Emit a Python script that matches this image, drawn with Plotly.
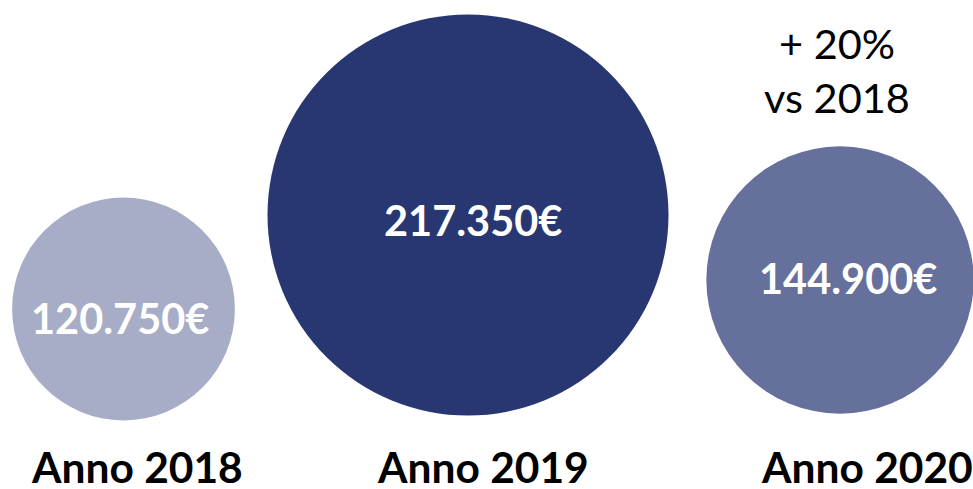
import plotly.graph_objects as go

# Data
years = ["Anno 2018", "Anno 2019", "Anno 2020"]
values = [120750, 217350, 144900]
note_lines = ["+ 20%", "vs 2018"]

# Layout / style (pixel coordinates on a 973x489 window)
W, H = 973, 489
x_pos = [123.5, 468, 840]
y_pos = [309, 215, 280]
value_label_xy = [(120, 318), (473, 220), (848, 278)]
year_label_x = [137, 483, 867]
year_label_y = 466
note_x = 837
note_y = [43, 97]
colors = ["#A7ADC6", "#283771", "#66709D"]
FONT = "Lato"


def fmt(v):
    return f"{v:,}".replace(",", ".") + "€"


fig = go.Figure()
fig.add_trace(go.Scatter(
    x=x_pos, y=y_pos, mode="markers",
    marker=dict(size=values, sizemode="diameter", sizeref=542,
                color=colors, line=dict(width=0), opacity=1),
    hoverinfo="skip", showlegend=False, cliponaxis=False,
))

for (tx, ty), v in zip(value_label_xy, values):
    fig.add_annotation(x=tx, y=ty, text=f"<b>{fmt(v)}</b>", showarrow=False,
                       xanchor="center", yanchor="middle",
                       font=dict(family=FONT, size=41.5, color="white"))

for lx, name in zip(year_label_x, years):
    fig.add_annotation(x=lx, y=year_label_y, text=f"<b>{name}</b>", showarrow=False,
                       xanchor="center", yanchor="middle", borderpad=0,
                       font=dict(family=FONT, size=42.5, color="black"))

for ly, line in zip(note_y, note_lines):
    fig.add_annotation(x=note_x, y=ly, text=line, showarrow=False,
                       xanchor="center", yanchor="middle",
                       font=dict(family=FONT, size=41.5, color="black"))

fig.update_xaxes(range=[0, W], visible=False, fixedrange=True)
fig.update_yaxes(range=[H, 0], visible=False, fixedrange=True)
fig.update_layout(width=W, height=H, margin=dict(l=0, r=0, t=0, b=0),
                  paper_bgcolor="white", plot_bgcolor="white", hovermode=False)

fig.write_html("out.html",
               config={"displayModeBar": False, "staticPlot": True},
               post_script="document.body.style.margin='0';document.body.style.overflow='hidden';")
